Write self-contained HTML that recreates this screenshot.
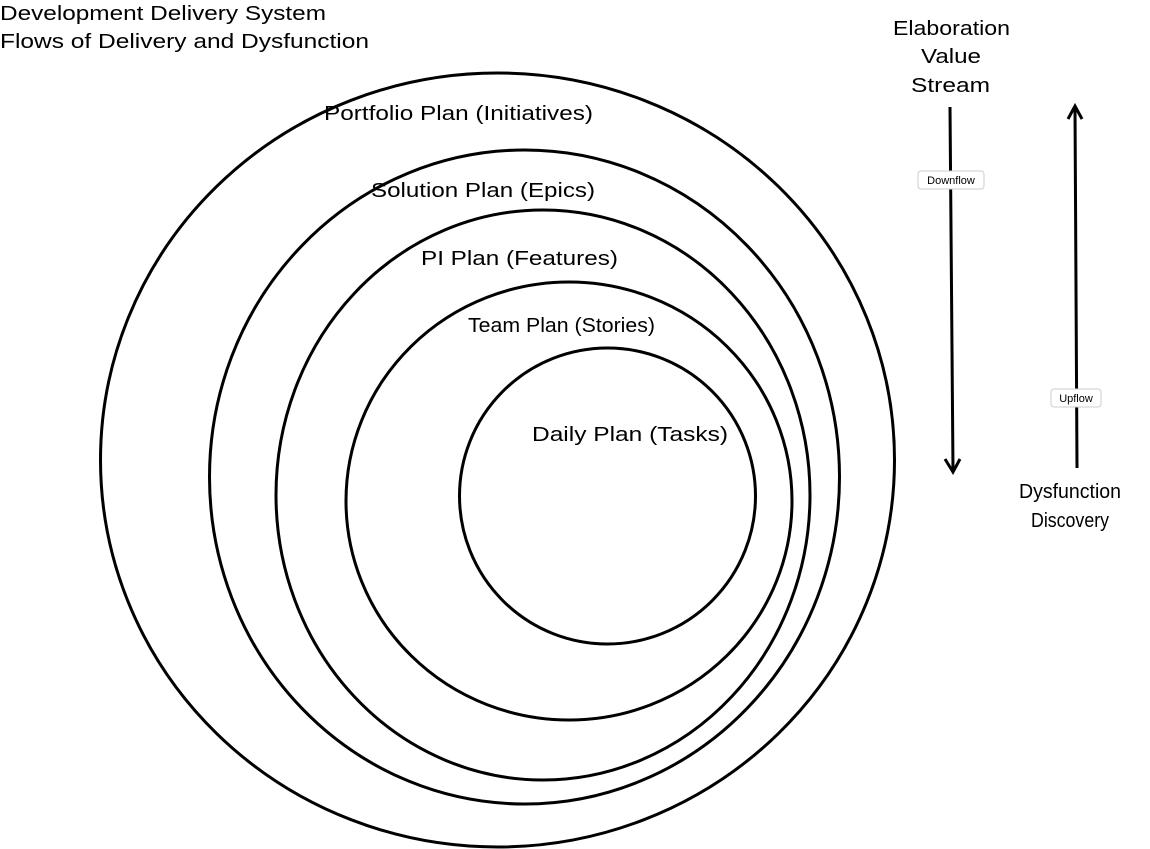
<!DOCTYPE html>
<html><head><meta charset="utf-8"><style>
html,body{margin:0;padding:0;background:#fff;}
svg{display:block;}
text{font-family:"Liberation Sans",sans-serif;fill:#000;}
</style></head><body>
<svg width="1150" height="849" viewBox="0 0 1150 849" xmlns="http://www.w3.org/2000/svg">
<g fill="none" stroke="#000" stroke-width="3">
<ellipse cx="497.5" cy="460" rx="397" ry="387"/>
<ellipse cx="524.5" cy="477" rx="315" ry="327"/>
<ellipse cx="543" cy="495" rx="267" ry="285"/>
<ellipse cx="569" cy="501" rx="223" ry="219"/>
<ellipse cx="607.5" cy="496" rx="148" ry="148"/>
<path d="M950 107 L953 470"/>
<path d="M945 459 L953 472 L960 459"/>
<path d="M1077 468 L1075 108"/>
<path d="M1068 119 L1075 106 L1082 119"/>
</g>
<g font-size="20">
<text x="0" y="20" textLength="326" lengthAdjust="spacingAndGlyphs">Development Delivery System</text>
<text x="0" y="48" textLength="369" lengthAdjust="spacingAndGlyphs">Flows of Delivery and Dysfunction</text>
<text x="324" y="120" textLength="269" lengthAdjust="spacingAndGlyphs">Portfolio Plan (Initiatives)</text>
<text x="371" y="197" textLength="224" lengthAdjust="spacingAndGlyphs">Solution Plan (Epics)</text>
<text x="421" y="265" textLength="197" lengthAdjust="spacingAndGlyphs">PI Plan (Features)</text>
<text x="468" y="332" textLength="187" lengthAdjust="spacingAndGlyphs">Team Plan (Stories)</text>
<text x="532" y="441" textLength="196" lengthAdjust="spacingAndGlyphs">Daily Plan (Tasks)</text>
<text x="893" y="35" textLength="117" lengthAdjust="spacingAndGlyphs">Elaboration</text>
<text x="921" y="63" textLength="60" lengthAdjust="spacingAndGlyphs">Value</text>
<text x="911" y="92" textLength="79" lengthAdjust="spacingAndGlyphs">Stream</text>
<text x="1019" y="498" textLength="102" lengthAdjust="spacingAndGlyphs">Dysfunction</text>
<text x="1031" y="527" textLength="78" lengthAdjust="spacingAndGlyphs">Discovery</text>
</g>
<rect x="918" y="171" width="66" height="18" rx="3" fill="#fff" stroke="#ccc"/>
<text x="951" y="184" font-size="11" text-anchor="middle">Downflow</text>
<rect x="1051" y="389" width="50" height="18" rx="3" fill="#fff" stroke="#ccc"/>
<text x="1076" y="402" font-size="11" text-anchor="middle">Upflow</text>
</svg>
</body></html>
